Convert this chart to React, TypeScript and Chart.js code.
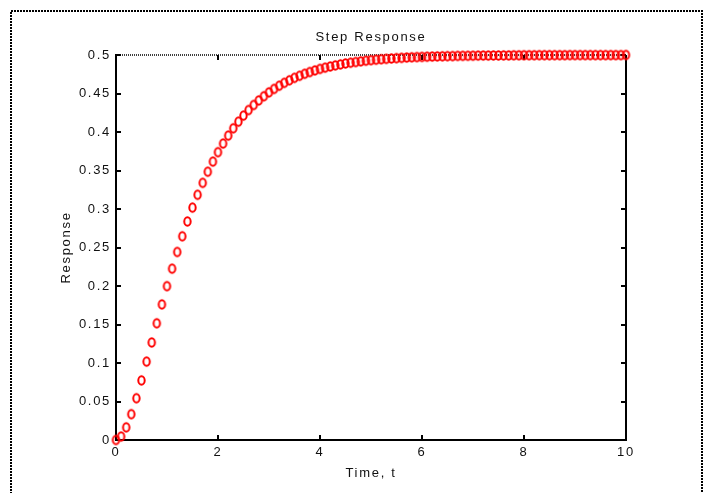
import React, { useEffect, useRef } from 'react';
import { Chart, registerables } from 'chart.js';

Chart.register(...registerables);

const chartTitle = 'Step Response';
const xAxisTitle = 'Time, t';
const yAxisTitle = 'Response';

const timeValues = [
  0, 0.1, 0.2, 0.3, 0.4, 0.5, 0.6, 0.7, 0.8, 0.9,
  1.0, 1.1, 1.2, 1.3, 1.4, 1.5, 1.6, 1.7, 1.8, 1.9,
  2.0, 2.1, 2.2, 2.3, 2.4, 2.5, 2.6, 2.7, 2.8, 2.9,
  3.0, 3.1, 3.2, 3.3, 3.4, 3.5, 3.6, 3.7, 3.8, 3.9,
  4.0, 4.1, 4.2, 4.3, 4.4, 4.5, 4.6, 4.7, 4.8, 4.9,
  5.0, 5.1, 5.2, 5.3, 5.4, 5.5, 5.6, 5.7, 5.8, 5.9,
  6.0, 6.1, 6.2, 6.3, 6.4, 6.5, 6.6, 6.7, 6.8, 6.9,
  7.0, 7.1, 7.2, 7.3, 7.4, 7.5, 7.6, 7.7, 7.8, 7.9,
  8.0, 8.1, 8.2, 8.3, 8.4, 8.5, 8.6, 8.7, 8.8, 8.9,
  9.0, 9.1, 9.2, 9.3, 9.4, 9.5, 9.6, 9.7, 9.8, 9.9,
  10.0,
];

const responseValues = [
  0.0000, 0.0045, 0.0164, 0.0336, 0.0543, 0.0774, 0.1018, 0.1267, 0.1516, 0.1761,
  0.1998, 0.2225, 0.2442, 0.2646, 0.2838, 0.3018, 0.3185, 0.3340, 0.3484, 0.3616,
  0.3738, 0.3850, 0.3953, 0.4048, 0.4134, 0.4213, 0.4285, 0.4351, 0.4410, 0.4465,
  0.4515, 0.4560, 0.4601, 0.4638, 0.4672, 0.4703, 0.4730, 0.4756, 0.4779, 0.4800,
  0.4819, 0.4836, 0.4851, 0.4865, 0.4878, 0.4890, 0.4900, 0.4909, 0.4918, 0.4926,
  0.4933, 0.4939, 0.4945, 0.4950, 0.4955, 0.4959, 0.4963, 0.4967, 0.4970, 0.4973,
  0.4975, 0.4978, 0.4980, 0.4982, 0.4983, 0.4985, 0.4986, 0.4988, 0.4989, 0.4990,
  0.4991, 0.4992, 0.4993, 0.4993, 0.4994, 0.4994, 0.4995, 0.4995, 0.4996, 0.4996,
  0.4997, 0.4997, 0.4997, 0.4998, 0.4998, 0.4998, 0.4998, 0.4998, 0.4998, 0.4999,
  0.4999, 0.4999, 0.4999, 0.4999, 0.4999, 0.4999, 0.4999, 0.4999, 0.4999, 0.4999,
  0.5000,
];

const xTickValues = [0, 2, 4, 6, 8, 10];
const xTickLabels = ['0', '2', '4', '6', '8', '10'];
const yTickValues = [0, 0.05, 0.1, 0.15, 0.2, 0.25, 0.3, 0.35, 0.4, 0.45, 0.5];
const yTickLabels = ['0', '0.05', '0.1', '0.15', '0.2', '0.25', '0.3', '0.35', '0.4', '0.45', '0.5'];

const FONT = '"Liberation Sans", Arial, sans-serif';
const FONT_SIZE = 13;
const LETTER_SPACING = '1.7px';
const TEXT_COLOR = '#111';

function makeMarker(): HTMLCanvasElement {
  const c = document.createElement('canvas');
  c.width = 11;
  c.height = 13;
  const g = c.getContext('2d')!;
  g.strokeStyle = '#ff0000';
  g.lineWidth = 2;
  g.beginPath();
  g.ellipse(5.5, 6.5, 3.2, 4.2, 0, 0, Math.PI * 2);
  g.stroke();
  return c;
}

const framePlugin = {
  id: 'matlabFrame',
  beforeUpdate(chart: any) {
    chart.ctx.letterSpacing = LETTER_SPACING;
  },
  beforeDraw(chart: any) {
    const ctx = chart.ctx;
    ctx.letterSpacing = LETTER_SPACING;
    ctx.save();
    ctx.fillStyle = '#ffffff';
    ctx.fillRect(0, 0, chart.width, chart.height);
    ctx.strokeStyle = '#000';
    ctx.lineWidth = 2;
    ctx.setLineDash([2, 1]);
    ctx.strokeRect(11, 11, chart.width - 12, chart.height + 10);
    ctx.restore();
  },
  beforeDatasetsDraw(chart: any) {
    const { ctx, chartArea, scales } = chart;
    const { left, right, top, bottom } = chartArea;
    const x = scales.x;
    const y = scales.y;
    ctx.save();
    ctx.strokeStyle = '#000';
    ctx.lineWidth = 1.5;
    ctx.setLineDash([1, 1]);
    ctx.beginPath();
    ctx.moveTo(left, top);
    ctx.lineTo(right, top);
    ctx.stroke();
    ctx.setLineDash([]);
    ctx.lineWidth = 2;
    ctx.beginPath();
    ctx.moveTo(right, top);
    ctx.lineTo(right, bottom + 1);
    ctx.stroke();
    ctx.beginPath();
    const tl = 5;
    xTickValues.forEach((v) => {
      const px = Math.round(x.getPixelForValue(v));
      ctx.moveTo(px, bottom);
      ctx.lineTo(px, bottom - tl);
      ctx.moveTo(px, top);
      ctx.lineTo(px, top + tl);
    });
    yTickValues.forEach((v) => {
      const py = Math.round(y.getPixelForValue(v));
      ctx.moveTo(left, py);
      ctx.lineTo(left + tl, py);
      ctx.moveTo(right, py);
      ctx.lineTo(right - tl, py);
    });
    ctx.stroke();
    ctx.restore();
  },
  afterDraw(chart: any) {
    const { ctx, chartArea } = chart;
    ctx.save();
    ctx.letterSpacing = LETTER_SPACING;
    ctx.font = `${FONT_SIZE}px ${FONT}`;
    ctx.fillStyle = TEXT_COLOR;
    ctx.textAlign = 'center';
    ctx.textBaseline = 'middle';
    ctx.fillText(chartTitle, (chartArea.left + chartArea.right) / 2, 37);
    ctx.restore();
  },
};

export default function App() {
  const canvasRef = useRef<HTMLCanvasElement | null>(null);

  useEffect(() => {
    document.body.style.margin = '0';
    const canvas = canvasRef.current;
    if (!canvas) return;
    const marker = makeMarker();
    const font = { family: FONT, size: FONT_SIZE };
    const chart = new Chart(canvas, {
      type: 'scatter',
      data: {
        datasets: [
          {
            data: timeValues.map((t, i) => ({ x: t, y: responseValues[i] })),
            pointStyle: marker as any,
            pointRadius: 4,
            showLine: false,
            clip: false as any,
          },
        ],
      },
      options: {
        animation: false,
        responsive: false,
        layout: { padding: { left: 0, right: 77, top: 55, bottom: 0 } },
        plugins: {
          legend: { display: false },
          tooltip: { enabled: false },
          title: { display: false },
        },
        scales: {
          x: {
            type: 'linear',
            position: 'bottom',
            min: 0,
            max: 10,
            afterFit: (s: any) => {
              s.height = 53;
            },
            afterBuildTicks: (s: any) => {
              s.ticks = xTickValues.map((v) => ({ value: v }));
            },
            grid: { display: false, drawTicks: false },
            border: { display: true, color: '#000', width: 2 },
            ticks: {
              padding: 5,
              color: TEXT_COLOR,
              font,
              maxRotation: 0,
              autoSkip: false,
              callback: (_v: any, i: number) => xTickLabels[i],
            },
            title: {
              display: true,
              text: xAxisTitle,
              color: TEXT_COLOR,
              font,
              padding: { top: 0, bottom: 12 },
            },
          },
          y: {
            type: 'linear',
            position: 'left',
            min: 0,
            max: 0.5,
            afterFit: (s: any) => {
              s.width = 116;
            },
            afterBuildTicks: (s: any) => {
              s.ticks = yTickValues.map((v) => ({ value: v }));
            },
            grid: { display: false, drawTicks: false },
            border: { display: true, color: '#000', width: 2 },
            ticks: {
              padding: 5,
              color: TEXT_COLOR,
              font,
              autoSkip: false,
              callback: (_v: any, i: number) => yTickLabels[i],
            },
            title: {
              display: true,
              text: yAxisTitle,
              color: TEXT_COLOR,
              font,
              padding: { top: 59, bottom: 0 },
            },
          },
        },
      },
      plugins: [framePlugin],
    } as any);
    return () => chart.destroy();
  }, []);

  return (
    <div style={{ width: 703, height: 493 }}>
      <canvas ref={canvasRef} width={703} height={493} style={{ display: 'block' }} />
    </div>
  );
}
